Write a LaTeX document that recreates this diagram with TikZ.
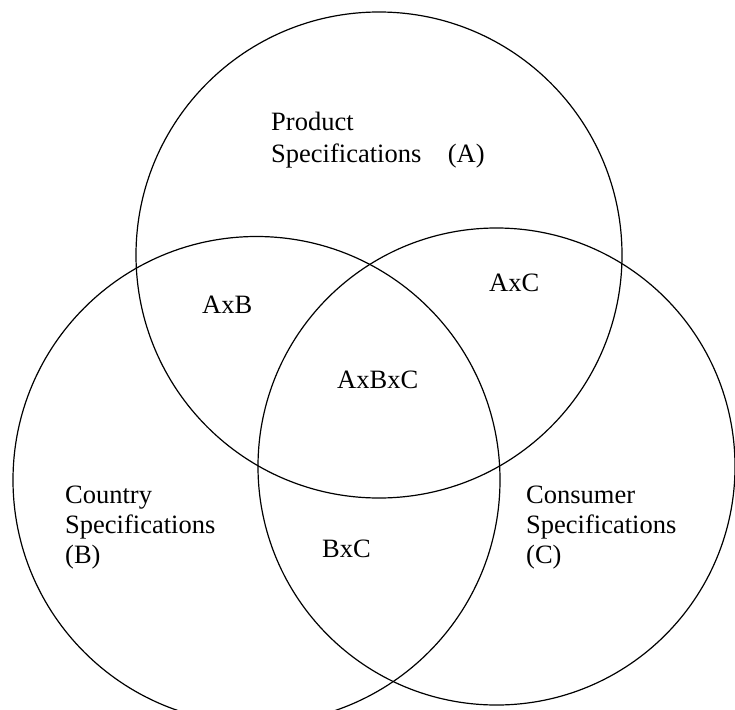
\documentclass[tikz,border=0pt]{standalone}
\usepackage{fontspec}
\setmainfont{Liberation Serif}
\usetikzlibrary{positioning}

\begin{document}
\begin{tikzpicture}[x=1pt,y=-1pt,
  set/.style={draw,circle,line width=1.2pt,inner sep=0pt},
  lbl/.style={font=\fontsize{26.5}{30}\selectfont,inner sep=0pt,align=left,anchor=base west}]
  \useasboundingbox (0,0) rectangle (735,709);
  \clip (0,0) rectangle (735,709);

  % the three sets
  \node[set,minimum size=486pt,name=prod] at (379,255) {};
  \node[set,minimum size=487pt,name=country] at (256.5,480) {};
  \node[set,minimum size=477pt,name=consumer] at (496.5,466.5) {};

  % labels (base = last line)
  \node[lbl,font=\fontsize{26.5}{32}\selectfont,name=prodlbl] at (271,162) {Product\\Specifications\quad(A)};
  \node[lbl,name=countrylbl] at (65,563) {Country\\Specifications\\(B)};
  \node[lbl,name=consumerlbl] at (526,563) {Consumer\\Specifications\\(C)};

  \node[lbl,name=ab] at (202,313) {AxB};
  \node[lbl,name=ac] at (489,291) {AxC};
  \node[lbl,name=abc] at (337,388) {AxBxC};
  \node[lbl,name=bc] at (322,557) {BxC};
\end{tikzpicture}
\end{document}
